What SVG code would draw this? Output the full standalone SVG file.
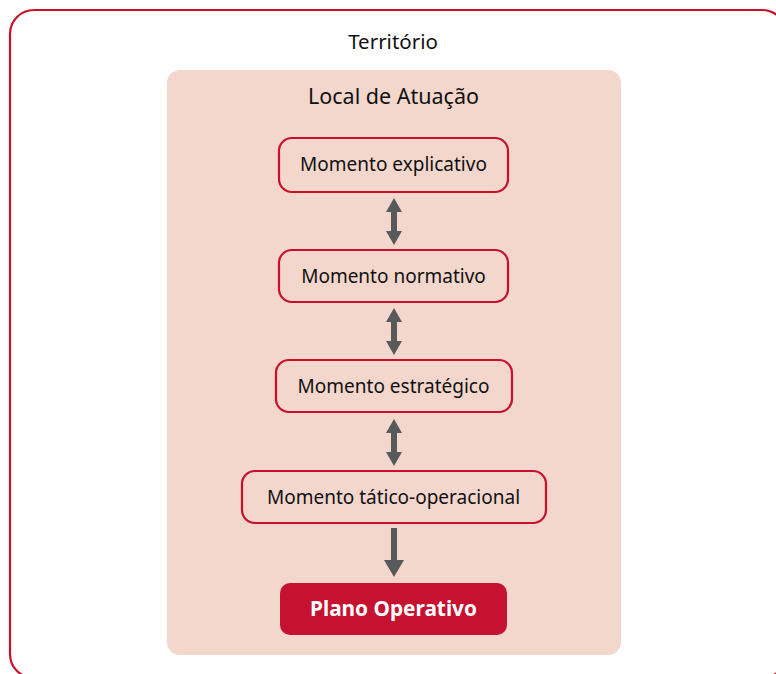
<svg xmlns="http://www.w3.org/2000/svg" width="776" height="674" viewBox="0 0 776 674">
<style>
.title{font-family:"Noto Sans","Open Sans",sans-serif;font-size:20.5px;fill:#111111;text-anchor:middle}
.node rect{fill:#f3d6cc;stroke:#c8102e;stroke-width:2.2}
.node text{font-family:"Noto Sans","Open Sans",sans-serif;font-size:19px;fill:#111111;text-anchor:middle}
.final rect{fill:#c41230}
.final text{font-family:"Noto Sans","Open Sans",sans-serif;font-size:20.8px;font-weight:bold;fill:#ffffff;text-anchor:middle}
.conn path{fill:#58595b}
</style>
<rect width="776" height="674" fill="#ffffff"/>
<g id="territorio">
<rect x="10" y="10" width="776" height="668" rx="24" fill="#ffffff" stroke="#c8102e" stroke-width="2.2"/>
<text class="title" x="393" y="49">Território</text>
</g>
<g id="local">
<rect x="167" y="70" width="454" height="585" rx="13" fill="#f3d6cc"/>
<text class="title" x="393.5" y="104" style="font-size:21.5px">Local de Atuação</text>
</g>
<g id="n1" class="node">
<rect x="279" y="138" width="229" height="54" rx="13"/>
<text x="393.5" y="171">Momento explicativo</text>
</g>
<g id="n2" class="node">
<rect x="279" y="250" width="229" height="52" rx="13"/>
<text x="393.5" y="282.5">Momento normativo</text>
</g>
<g id="n3" class="node">
<rect x="276" y="360" width="236" height="52" rx="13"/>
<text x="393.5" y="392.5">Momento estratégico</text>
</g>
<g id="n4" class="node">
<rect x="242" y="471" width="304" height="52" rx="13"/>
<text x="393.5" y="503.5">Momento tático-operacional</text>
</g>
<g id="n5" class="final">
<rect x="280" y="583" width="227" height="52" rx="10"/>
<text x="393.5" y="616">Plano Operativo</text>
</g>
<g id="connectors" class="conn">
<path d="M394 198 L402 212 L397 212 L397 231 L402 231 L394 245 L386 231 L391 231 L391 212 L386 212 Z"/>
<path d="M394 308 L402 322 L397 322 L397 341 L402 341 L394 355 L386 341 L391 341 L391 322 L386 322 Z"/>
<path d="M394 419 L402 433 L397 433 L397 452 L402 452 L394 466 L386 452 L391 452 L391 433 L386 433 Z"/>
<path d="M391 528 L397 528 L397 560 L404 560 L394 577 L384 560 L391 560 Z"/>
</g>
</svg>
